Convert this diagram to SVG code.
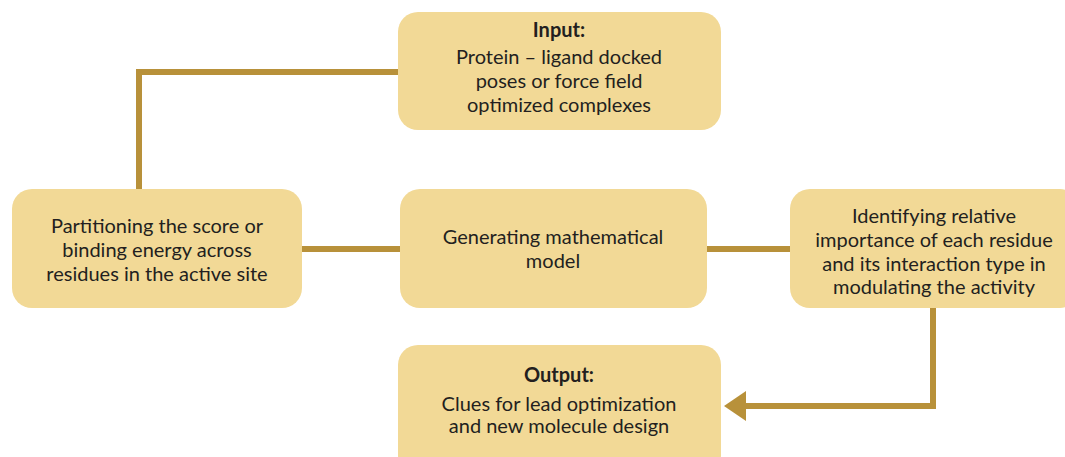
<svg xmlns="http://www.w3.org/2000/svg" width="1065" height="457" viewBox="0 0 1065 457">
<style>
.box{fill:#f2d996;}
.t{font-family:Lato,"Open Sans","Liberation Sans",sans-serif;font-size:20px;fill:#231f20;text-anchor:middle;}
.b{font-weight:bold;}
.c{stroke:#b8913a;stroke-width:6;fill:none;}
</style>
<rect width="1065" height="457" fill="#ffffff"/>
<g id="connectors">
<polyline class="c" points="398,72 139,72 139,189"/>
<line class="c" x1="302" y1="249" x2="400" y2="249"/>
<line class="c" x1="707" y1="249" x2="790" y2="249"/>
<polyline class="c" points="933,308 933,406 746,406"/>
<path d="M724,406 L746,391 L746,421 Z" fill="#b8913a"/>
</g>
<g id="input">
<rect class="box" x="398" y="12" width="323" height="118" rx="20"/>
<text class="t b" x="559" y="37">Input:</text>
<text class="t" x="559" y="64">Protein – ligand docked</text>
<text class="t" x="559" y="88">poses or force field</text>
<text class="t" x="559" y="112">optimized complexes</text>
</g>
<g id="partition">
<rect class="box" x="12" y="189" width="290" height="119" rx="20"/>
<text class="t" x="157" y="233">Partitioning the score or</text>
<text class="t" x="157" y="257">binding energy across</text>
<text class="t" x="157" y="281">residues in the active site</text>
</g>
<g id="model">
<rect class="box" x="400" y="189" width="307" height="119" rx="20"/>
<text class="t" x="553" y="244">Generating mathematical</text>
<text class="t" x="553" y="268">model</text>
</g>
<g id="identify">
<rect class="box" x="790" y="189" width="290" height="119" rx="20"/>
<text class="t" x="934" y="223">Identifying relative</text>
<text class="t" x="934" y="247">importance of each residue</text>
<text class="t" x="934" y="271">and its interaction type in</text>
<text class="t" x="934" y="294">modulating the activity</text>
</g>
<g id="output">
<rect class="box" x="398" y="345" width="323" height="130" rx="20"/>
<text class="t b" x="559" y="382">Output:</text>
<text class="t" x="559" y="411">Clues for lead optimization</text>
<text class="t" x="559" y="433">and new molecule design</text>
</g>
</svg>
